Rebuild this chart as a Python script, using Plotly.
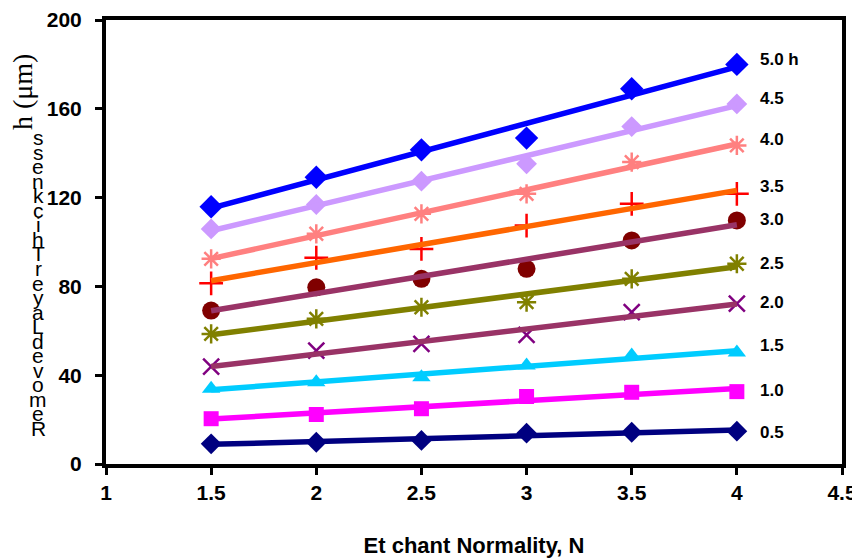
import numpy as np
import plotly.graph_objects as go

# ---------------- data ----------------
normality = [1.5, 2.0, 2.5, 3.0, 3.5, 4.0]
series_names = ["5.0 h", "4.5", "4.0", "3.5", "3.0", "2.5", "2.0", "1.5", "1.0", "0.5"]
h50 = [115.9, 129.2, 141.5, 146.8, 169.0, 180.0]
h45 = [105.9, 116.9, 127.4, 135.2, 152.0, 162.2]
h40 = [92.4, 103.7, 112.7, 121.7, 136.0, 143.5]
h35 = [81.4, 92.9, 96.9, 107.4, 117.2, 121.7]
h30 = [69.1, 79.6, 83.4, 87.9, 100.7, 109.7]
h25 = [58.6, 65.4, 70.6, 72.9, 83.4, 90.2]
h20 = [43.9, 51.1, 54.1, 58.2, 68.4, 72.2]
h15 = [33.9, 36.8, 39.1, 44.4, 48.9, 50.2]
h10 = [20.4, 22.3, 24.9, 30.4, 32.3, 32.6]
h05 = [9.1, 9.8, 10.6, 13.9, 14.3, 14.8]
series_values = [h50, h45, h40, h35, h30, h25, h20, h15, h10, h05]
x_ticks = [1, 1.5, 2, 2.5, 3, 3.5, 4, 4.5]
y_ticks = [0, 40, 80, 120, 160, 200]

x_title = "Et chant Normality, N"
y_title_rot = "h (\u03bcm)"
y_title_stack = "Removed Layer Thickness"

# ---------------- styles ----------------
marker_colors = ["#0000FF", "#CC99FF", "#FF8080", "#FF0000", "#800000",
                 "#808000", "#800080", "#00CCFF", "#FF00FF", "#000080"]
line_colors = ["#0000FF", "#CC99FF", "#FF8080", "#FF6600", "#993366",
               "#808000", "#993366", "#00CCFF", "#FF00FF", "#000080"]
symbols = ["diamond", "diamond", "asterisk-open", "cross-thin-open", "circle",
           "asterisk-open", "x-thin-open", "triangle-up", "square", "diamond"]
sizes = [18, 16, 16, 17, 18, 16, 16, 16, 15, 16]
label_y = [182, 164.8, 146.3, 125.1, 110.2, 90.4, 72.8, 53.4, 33.1, 14.2]

FONT = "Arial, Liberation Sans, sans-serif"
fig = go.Figure()

# markers first
for name, vals, mc, sym, sz in zip(series_names, series_values, marker_colors, symbols, sizes):
    open_sym = sym.endswith("open")
    fig.add_trace(go.Scatter(
        x=normality, y=vals, mode="markers", name=name, showlegend=False,
        marker=dict(symbol=sym, size=sz, color=mc,
                    line=dict(color=mc, width=2.5 if open_sym else 0)),
        cliponaxis=False,
    ))

# linear trend lines on top
for name, vals, lc in zip(series_names, series_values, line_colors):
    k, b = np.polyfit(normality, vals, 1)
    xs = np.array([min(normality), max(normality)])
    fig.add_trace(go.Scatter(
        x=xs, y=k * xs + b, mode="lines", showlegend=False,
        line=dict(color=lc, width=5.5),
    ))

annotations = []
for name, ly in zip(series_names, label_y):
    annotations.append(dict(
        x=4.1, y=ly, xref="x", yref="y", text="<b>%s</b>" % name,
        showarrow=False, xanchor="left", yanchor="middle",
        font=dict(family=FONT, size=17, color="black"),
    ))

# page pixel geometry (the page body is offset by 8 px)
OFF = 8
ML, MT, PLOT_H = 106 - OFF, 20 - OFF, 444


def ypaper(ypix):
    return (MT + OFF + PLOT_H - ypix) / PLOT_H


# rotated part of y title
annotations.append(dict(
    x=0, y=ypaper(92), xref="paper", yref="paper",
    xshift=22 - 106, text=y_title_rot, textangle=-90, showarrow=False,
    xanchor="center", yanchor="middle",
    font=dict(family="Times New Roman, Liberation Serif, serif", size=28, color="black"),
))
# stacked letters (read bottom to top)
chars = [c for c in y_title_stack[::-1] if c != " "]
y0, step = 138, 14.5
for i, c in enumerate(chars):
    annotations.append(dict(
        x=0, y=ypaper(y0 + i * step), xref="paper", yref="paper",
        xshift=38 - 106, text=c, showarrow=False,
        xanchor="center", yanchor="middle",
        font=dict(family=FONT, size=21, color="black"),
    ))

fig.update_layout(
    width=860 - OFF, height=560 - OFF,
    margin=dict(l=ML, r=18, t=MT, b=96, pad=0),
    paper_bgcolor="white", plot_bgcolor="white",
    annotations=annotations,
    xaxis=dict(
        range=[1, 4.5], tickvals=x_ticks, ticktext=["<b>%g</b>" % v for v in x_ticks],
        showgrid=False, zeroline=False, automargin=False,
        showline=True, linecolor="black", linewidth=4, mirror=True,
        ticks="outside", ticklen=7, tickwidth=3, tickcolor="black",
        tickfont=dict(family=FONT, size=21, color="black"),
        title=dict(text="<b>%s</b>" % x_title, standoff=35,
                   font=dict(family=FONT, size=22, color="black")),
    ),
    yaxis=dict(
        range=[0, 200], tickvals=y_ticks, ticktext=["<b>%d</b>" % v for v in y_ticks],
        showgrid=False, zeroline=False, automargin=False,
        showline=True, linecolor="black", linewidth=4, mirror=True,
        ticks="outside", ticklen=7, tickwidth=3, tickcolor="black",
        ticklabelstandoff=9,
        tickfont=dict(family=FONT, size=21, color="black"),
    ),
)

fig.write_html("out.html")
